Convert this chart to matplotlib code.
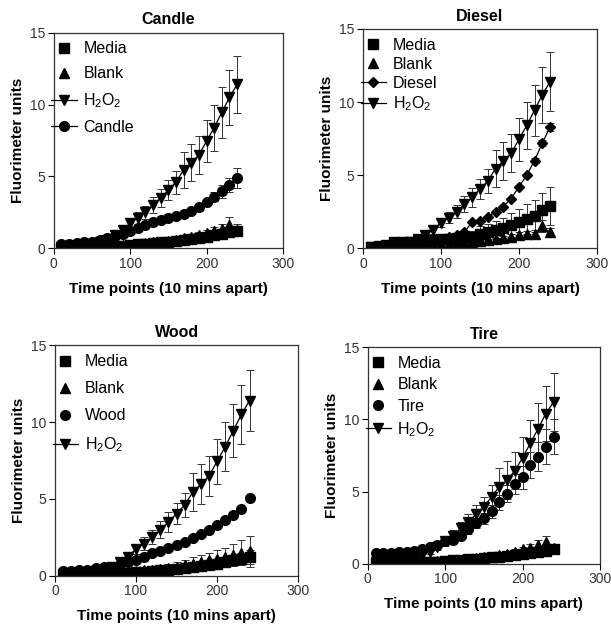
import matplotlib
matplotlib.use("Agg")
import matplotlib.pyplot as plt
from matplotlib.lines import Line2D
import numpy as np

plt.rcParams['font.family'] = ['Liberation Sans', 'DejaVu Sans']
plt.rcParams['mathtext.fontset'] = 'custom'
plt.rcParams['mathtext.rm'] = 'Liberation Sans'
plt.rcParams['mathtext.it'] = 'Liberation Sans:italic'

# ---------------- data ----------------
time_points = [10, 20, 30, 40, 50, 60, 70, 80, 90, 100, 110, 120,
               130, 140, 150, 160, 170, 180, 190, 200, 210, 220, 230, 240]

h2o2 = [0.1, 0.12, 0.15, 0.2, 0.3, 0.4, 0.6, 0.9, 1.25, 1.75, 2.1, 2.5,
        3.0, 3.5, 4.05, 4.6, 5.45, 5.95, 6.5, 7.45, 8.4, 9.45, 10.5, 11.4]
h2o2_err = [0.05, 0.05, 0.05, 0.1, 0.1, 0.1, 0.15, 0.2, 0.25, 0.3, 0.4, 0.45,
            0.55, 0.65, 0.7, 0.8, 1.25, 1.3, 1.3, 1.45, 1.6, 1.75, 1.9, 2.0]

candle_media = [0.05, 0.05, 0.06, 0.07, 0.08, 0.1, 0.12, 0.15, 0.18, 0.22, 0.26, 0.3,
                0.35, 0.4, 0.45, 0.5, 0.55, 0.62, 0.7, 0.8, 0.9, 1.0, 1.1, 1.2]
candle_media_err = [0.02] * 18 + [0.05, 0.08, 0.1, 0.12, 0.15, 0.2]
candle_blank = [0.0, 0.02, 0.03, 0.05, 0.07, 0.1, 0.12, 0.15, 0.2, 0.25, 0.3, 0.35,
                0.4, 0.45, 0.5, 0.6, 0.7, 0.8, 0.9, 1.05, 1.2, 1.35, 1.6, 1.3]
candle_blank_err = [0.02] * 12 + [0.05, 0.05, 0.08, 0.1, 0.12, 0.15, 0.2, 0.25, 0.3, 0.35, 0.55, 0.4]
candle = [0.3, 0.3, 0.35, 0.4, 0.45, 0.55, 0.7, 0.85, 1.0, 1.2, 1.4, 1.6,
          1.8, 1.95, 2.1, 2.25, 2.4, 2.6, 2.85, 3.2, 3.6, 3.95, 4.4, 4.9]
candle_err = [0.03] * 12 + [0.05, 0.05, 0.07, 0.1, 0.1, 0.12, 0.15, 0.2, 0.3, 0.45, 0.5, 0.7]

diesel_media = [0.05, 0.1, 0.2, 0.4, 0.4, 0.45, 0.5, 0.5, 0.55, 0.6, 0.65, 0.7,
                0.75, 0.8, 1.0, 1.1, 1.25, 1.4, 1.6, 1.8, 2.0, 2.2, 2.6, 2.9]
diesel_media_err = [0.05, 0.05, 0.05, 0.1, 0.1, 0.1, 0.1, 0.1, 0.15, 0.2, 0.25, 0.3,
                    0.35, 0.4, 0.5, 0.55, 0.6, 0.7, 0.8, 0.9, 1.0, 1.1, 1.2, 1.3]
diesel_blank = [0.0, 0.02, 0.05, 0.08, 0.1, 0.12, 0.15, 0.2, 0.25, 0.3, 0.3, 0.35,
                0.4, 0.45, 0.5, 0.55, 0.6, 0.7, 0.8, 0.9, 0.95, 1.0, 1.5, 1.1]
diesel_blank_err = [0.02] * 12 + [0.05, 0.05, 0.08, 0.1, 0.1, 0.12, 0.15, 0.2, 0.2, 0.25, 0.4, 0.3]
diesel = [0.05, 0.1, 0.15, 0.2, 0.25, 0.3, 0.35, 0.45, 0.55, 0.65, 0.75, 0.9,
          1.1, 1.8, 1.85, 2.15, 2.5, 2.85, 3.4, 4.2, 5.0, 6.0, 7.2, 8.3]
diesel_err = [0.03] * 20 + [0.1, 0.15, 0.2, 0.3]

wood_media = [0.05, 0.05, 0.06, 0.07, 0.08, 0.1, 0.12, 0.15, 0.18, 0.22, 0.26, 0.3,
              0.35, 0.4, 0.45, 0.5, 0.55, 0.62, 0.7, 0.8, 0.9, 1.0, 1.1, 1.2]
wood_media_err = [0.02] * 12 + [0.05, 0.05, 0.08, 0.1, 0.12, 0.15, 0.2, 0.25, 0.3, 0.35, 0.4, 0.45]
wood_blank = [0.0, 0.03, 0.05, 0.08, 0.1, 0.13, 0.16, 0.2, 0.25, 0.3, 0.35, 0.4,
              0.45, 0.5, 0.6, 0.7, 0.8, 0.9, 1.0, 1.1, 1.2, 1.35, 1.5, 1.6]
wood_blank_err = [0.02] * 10 + [0.1, 0.15, 0.2, 0.25, 0.3, 0.35, 0.4, 0.45, 0.5, 0.55, 0.6, 0.7, 0.8, 1.0]
wood = [0.3, 0.3, 0.35, 0.4, 0.5, 0.55, 0.6, 0.7, 0.9, 1.05, 1.25, 1.5,
        1.6, 1.8, 2.0, 2.2, 2.45, 2.7, 3.0, 3.3, 3.6, 3.95, 4.35, 5.05]
wood_err = [0.03] * 24

tire_media = [0.05, 0.05, 0.06, 0.07, 0.08, 0.1, 0.12, 0.14, 0.16, 0.2, 0.24, 0.28,
              0.32, 0.36, 0.4, 0.45, 0.5, 0.56, 0.62, 0.7, 0.78, 0.85, 0.92, 1.0]
tire_media_err = [0.02] * 18 + [0.05, 0.06, 0.08, 0.1, 0.12, 0.15]
tire_blank = [0.0, 0.02, 0.03, 0.05, 0.07, 0.1, 0.12, 0.15, 0.18, 0.22, 0.26, 0.3,
              0.35, 0.4, 0.45, 0.5, 0.6, 0.7, 0.85, 1.0, 1.1, 1.3, 1.5, 1.1]
tire_blank_err = [0.02] * 14 + [0.05, 0.05, 0.08, 0.1, 0.15, 0.2, 0.25, 0.35, 0.45, 0.3]
tire = [0.75, 0.75, 0.75, 0.8, 0.85, 0.9, 1.0, 1.15, 1.3, 1.55, 1.65, 1.95,
        2.4, 2.8, 3.15, 3.65, 4.25, 4.85, 5.55, 6.0, 6.85, 7.4, 8.1, 8.8]
tire_err = [0.05, 0.05, 0.05, 0.05, 0.08, 0.1, 0.1, 0.12, 0.15, 0.15, 0.2, 0.25,
            0.3, 0.35, 0.4, 0.45, 0.5, 0.6, 0.7, 0.8, 0.9, 1.0, 1.2, 1.2]
tire_h2o2 = [0.1, 0.12, 0.15, 0.2, 0.3, 0.4, 0.6, 0.85, 1.2, 1.55, 1.95, 2.45,
             2.9, 3.45, 3.95, 4.65, 5.35, 5.8, 6.45, 7.35, 8.35, 9.35, 10.4, 11.2]

panel_titles = ["Candle", "Diesel", "Wood", "Tire"]
x_ticks = [0, 100, 200, 300]
y_ticks = [0, 5, 10, 15]
x_label = "Time points (10 mins apart)"
y_label = "Fluorimeter units"
H2O2_LABEL = r"H$_2$O$_2$"

# ---------------- figure ----------------
fig = plt.figure(figsize=(6.11, 6.30), dpi=100)
positions = [
    [0.088, 0.606, 0.375, 0.342],
    [0.594, 0.606, 0.383, 0.348],
    [0.090, 0.086, 0.398, 0.366],
    [0.602, 0.105, 0.380, 0.344],
]
legend_spacing = [0.62, 0.25, 0.75, 0.4]

MS = {'s': 6.5, '^': 7, 'v': 7, 'o': 7, 'D': 5}


def series(ax, y, err, marker, line):
    ax.errorbar(time_points, y, yerr=err, fmt=marker, color='black',
                ms=MS[marker], linestyle='-' if line else 'none', lw=0.9,
                elinewidth=0.7, capsize=3.2, capthick=0.7, ecolor='#333333')


def legend_handle(marker, line):
    return Line2D([0], [0], marker=marker, color='black', ms=MS[marker],
                  linestyle='-' if line else 'none', lw=0.9)


panels = [
    dict(title=panel_titles[0],
         data=[(candle_media, candle_media_err, 's', False),
               (candle_blank, candle_blank_err, '^', False),
               (candle, candle_err, 'o', True),
               (h2o2, h2o2_err, 'v', True)],
         legend=[('Media', 's', False), ('Blank', '^', False),
                 (H2O2_LABEL, 'v', True), ('Candle', 'o', True)]),
    dict(title=panel_titles[1],
         data=[(diesel_media, diesel_media_err, 's', False),
               (diesel_blank, diesel_blank_err, '^', False),
               (diesel, diesel_err, 'D', True),
               (h2o2, h2o2_err, 'v', True)],
         legend=[('Media', 's', False), ('Blank', '^', False),
                 ('Diesel', 'D', True), (H2O2_LABEL, 'v', True)]),
    dict(title=panel_titles[2],
         data=[(wood_media, wood_media_err, 's', False),
               (wood_blank, wood_blank_err, '^', False),
               (wood, wood_err, 'o', False),
               (h2o2, h2o2_err, 'v', True)],
         legend=[('Media', 's', False), ('Blank', '^', False),
                 ('Wood', 'o', False), (H2O2_LABEL, 'v', True)]),
    dict(title=panel_titles[3],
         data=[(tire_media, tire_media_err, 's', False),
               (tire_blank, tire_blank_err, '^', False),
               (tire, tire_err, 'o', False),
               (tire_h2o2, h2o2_err, 'v', True)],
         legend=[('Media', 's', False), ('Blank', '^', False),
                 ('Tire', 'o', False), (H2O2_LABEL, 'v', True)]),
]

for pos, p, ls in zip(positions, panels, legend_spacing):
    ax = fig.add_axes(pos)
    for y, e, m, l in p['data']:
        series(ax, y, e, m, l)
    ax.set_xlim(0, 300)
    ax.set_ylim(0, 15)
    ax.set_xticks(x_ticks)
    ax.set_yticks(y_ticks)
    ax.tick_params(direction='out', length=4, width=0.8, labelsize=10,
                   labelcolor='#333333', pad=2)
    for s in ax.spines.values():
        s.set_linewidth(0.9)
        s.set_color('#333333')
    ax.set_title(p['title'], fontsize=11.5, fontweight='bold', pad=6)
    ax.set_xlabel(x_label, fontsize=11, fontweight='bold', labelpad=8)
    ax.set_ylabel(y_label, fontsize=11, fontweight='bold', labelpad=4)
    handles = [legend_handle(m, l) for _, m, l in p['legend']]
    labels = [t for t, _, _ in p['legend']]
    ax.legend(handles, labels, loc='upper left', bbox_to_anchor=(-0.01, 0.96),
              frameon=False, fontsize=11.5, handlelength=1.6, handletextpad=0.4,
              labelspacing=ls, borderaxespad=0, borderpad=0)

fig.savefig("out.png", dpi=100)
